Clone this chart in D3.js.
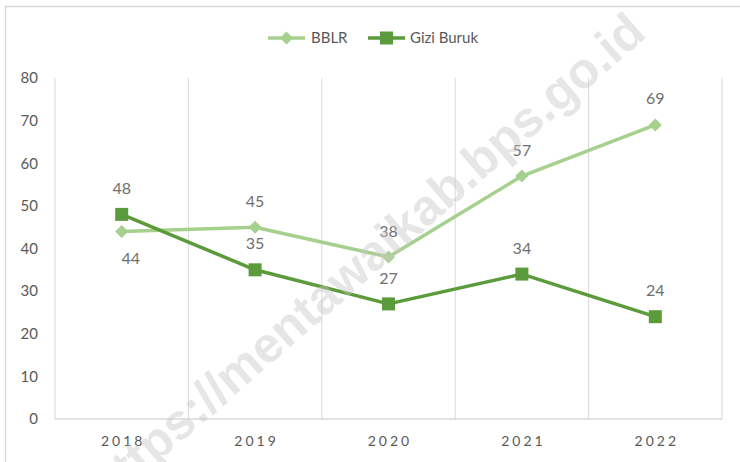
<!DOCTYPE html>
<html>
<head>
<meta charset="utf-8">
<script src="https://cdn.jsdelivr.net/npm/d3@7"></script>
<style>
  body { margin: 0; background: #fff; }
  svg { display: block; font-family: Lato, "Noto Sans", sans-serif; }
</style>
</head>
<body>
<div id="chart"></div>
<script>
var years = ["2018", "2019", "2020", "2021", "2022"];
var bblr = [44, 45, 38, 57, 69];
var giziBuruk = [48, 35, 27, 34, 24];
var yTicks = [0, 10, 20, 30, 40, 50, 60, 70, 80];

var width = 740, height = 462,
    margin = {top: 78, right: 18, bottom: 43, left: 55};

var svg = d3.select("#chart").append("svg")
    .attr("width", width)
    .attr("height", height);

// outer chart border (runs off the right / bottom)
svg.append("path")
    .attr("d", "M5.5," + height + "V6.5H" + width)
    .attr("fill", "none")
    .attr("stroke", "#d9d9d9")
    .attr("stroke-width", 1.5);

var x = d3.scaleBand()
    .domain(years)
    .range([margin.left, width - margin.right]);

var y = d3.scaleLinear()
    .domain([0, 80])
    .range([height - margin.bottom, margin.top]);

var cx = function(d, i){ return x(years[i]) + x.bandwidth() / 2; };

// vertical gridlines on category boundaries
var bounds = years.map(function(d){ return x(d); }).concat([x.range()[1]]);
svg.append("g")
  .selectAll("line")
  .data(bounds)
  .enter().append("line")
    .attr("x1", function(d){ return d; })
    .attr("x2", function(d){ return d; })
    .attr("y1", y(80))
    .attr("y2", y(0))
    .attr("stroke", "#d9d9d9")
    .attr("stroke-width", 1);

// baseline
svg.append("line")
    .attr("x1", x.range()[0]).attr("x2", x.range()[1])
    .attr("y1", y(0)).attr("y2", y(0))
    .attr("stroke", "#d9d9d9")
    .attr("stroke-width", 1.5);

// y labels
svg.append("g")
  .selectAll("text")
  .data(yTicks)
  .enter().append("text")
    .attr("x", 38)
    .attr("y", function(d){ return y(d); })
    .attr("dy", "0.35em")
    .attr("text-anchor", "end")
    .attr("fill", "#595959")
    .style("font-size", "15px")
    .text(function(d){ return d; });

// x labels
svg.append("g")
  .selectAll("text")
  .data(years)
  .enter().append("text")
    .attr("x", function(d){ return x(d) + x.bandwidth() / 2 + 1.5; })
    .attr("y", 441)
    .attr("dy", "0.35em")
    .attr("text-anchor", "middle")
    .attr("fill", "#595959")
    .style("font-size", "14px")
    .style("letter-spacing", "3px")
    .text(function(d){ return d; });

var series = [
  {name: "BBLR", values: bblr, color: "#a6d08d", marker: "diamond",
   labelPos: ["below", "above", "above", "above", "above"]},
  {name: "Gizi Buruk", values: giziBuruk, color: "#5b9b3b", marker: "square",
   labelPos: ["above", "above", "above", "above", "above"]}
];

var line = d3.line()
    .x(cx)
    .y(function(d){ return y(d); });

function drawMarker(g, type, color){
  if (type === "diamond") {
    g.append("path")
      .attr("d", "M0,-6.5L6.5,0L0,6.5L-6.5,0Z")
      .attr("fill", color);
  } else {
    g.append("rect")
      .attr("x", -6.5).attr("y", -6.5)
      .attr("width", 13).attr("height", 13)
      .attr("fill", color);
  }
}

series.forEach(function(s){
  svg.append("path")
    .datum(s.values)
    .attr("d", line)
    .attr("fill", "none")
    .attr("stroke", s.color)
    .attr("stroke-width", 3.5)
    .attr("stroke-linejoin", "round");

  s.values.forEach(function(v, i){
    var g = svg.append("g")
      .attr("transform", "translate(" + cx(v, i) + "," + y(v) + ")");
    drawMarker(g, s.marker, s.color);
  });
});

// data labels
series.forEach(function(s){
  svg.append("g")
    .selectAll("text")
    .data(s.values)
    .enter().append("text")
      .attr("x", function(d, i){ return cx(d, i) + (s.labelPos[i] === "below" ? 9 : 0); })
      .attr("y", function(d, i){ return y(d) + (s.labelPos[i] === "below" ? 27 : -26); })
      .attr("dy", "0.35em")
      .attr("text-anchor", "middle")
      .attr("fill", "#6f6f6f")
      .style("font-size", "16px")
      .text(function(d){ return d; });
});

// legend
var legend = svg.append("g");
var legendItems = [
  {s: series[0], x0: 268, tx: 311},
  {s: series[1], x0: 368, tx: 410}
];
legendItems.forEach(function(it){
  legend.append("line")
    .attr("x1", it.x0).attr("x2", it.x0 + 37)
    .attr("y1", 38).attr("y2", 38)
    .attr("stroke", it.s.color)
    .attr("stroke-width", 3.5);
  var g = legend.append("g")
    .attr("transform", "translate(" + (it.x0 + 18.5) + ",38)");
  drawMarker(g, it.s.marker, it.s.color);
  legend.append("text")
    .attr("x", it.tx)
    .attr("y", 38)
    .attr("dy", "0.35em")
    .attr("fill", "#595959")
    .style("font-size", "15px")
    .text(it.s.name);
});

// watermark
svg.append("text")
    .attr("transform", "translate(648,36) rotate(-41)")
    .attr("text-anchor", "end")
    .attr("fill", "#c8c8c8")
    .attr("fill-opacity", 0.45)
    .style("font-family", "'Liberation Sans', Arial, sans-serif")
    .style("font-weight", "bold")
    .style("font-size", "50px")
    .text("https://mentawaikab.bps.go.id");
</script>
</body>
</html>
